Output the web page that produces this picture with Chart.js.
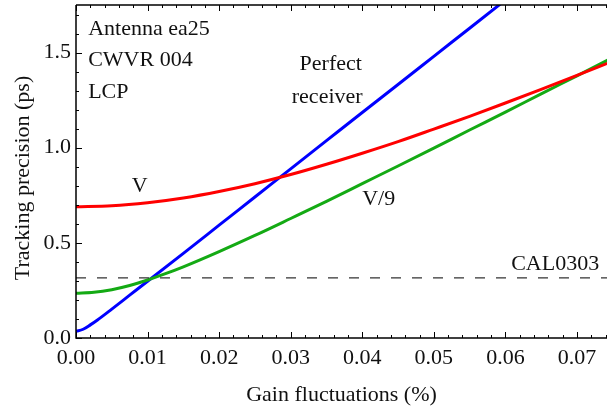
<!DOCTYPE html>
<html>
<head>
<meta charset="utf-8">
<script src="https://cdn.jsdelivr.net/npm/chart.js@4/dist/chart.umd.min.js"></script>
<style>
  body { margin: 0; background: #fff; }
</style>
</head>
<body>
<canvas id="chart" width="607" height="409"></canvas>
<script>
// values
const xV = [0, 0.005, 0.01, 0.015, 0.02, 0.025, 0.03, 0.035, 0.04, 0.045, 0.05, 0.055, 0.06, 0.065, 0.07, 0.0745];
const yV = [0.690, 0.695, 0.711, 0.736, 0.770, 0.811, 0.859, 0.913, 0.971, 1.032, 1.098, 1.165, 1.235, 1.307, 1.380, 1.447];

const xV9 = [0, 0.0025, 0.005, 0.0075, 0.01, 0.0125, 0.015, 0.02, 0.025, 0.03, 0.035, 0.04, 0.045, 0.05, 0.055, 0.06, 0.065, 0.07, 0.0745];
const yV9 = [0.235, 0.240, 0.254, 0.276, 0.305, 0.338, 0.374, 0.454, 0.539, 0.628, 0.718, 0.811, 0.904, 0.998, 1.093, 1.187, 1.283, 1.378, 1.464];

const xPerfect = [0, 0.001, 0.002, 0.003, 0.005, 0.0075, 0.01, 0.015, 0.02, 0.025, 0.03, 0.035, 0.04, 0.045, 0.05, 0.055, 0.06];
const yPerfect = [0.035, 0.046, 0.069, 0.095, 0.152, 0.225, 0.298, 0.445, 0.593, 0.741, 0.889, 1.037, 1.185, 1.332, 1.480, 1.628, 1.776];

const calLevel = 0.316;
const xMax = 0.0742;
const yMax = 1.75;

// text labels in data coordinates
const labels = [
  { text: 'Antenna ea25', x: 0.0017, y: 1.623, align: 'left' },
  { text: 'CWVR 004', x: 0.0017, y: 1.459, align: 'left' },
  { text: 'LCP', x: 0.0017, y: 1.291, align: 'left' },
  { text: 'Perfect', x: 0.0356, y: 1.438, align: 'center' },
  { text: 'receiver', x: 0.0351, y: 1.264, align: 'center' },
  { text: 'V', x: 0.0089, y: 0.80, align: 'center' },
  { text: 'V/9', x: 0.0423, y: 0.728, align: 'center' },
  { text: 'CAL0303', x: 0.0731, y: 0.39, align: 'right' }
];
const yTitle = 'Tracking precision (ps)';

const serif = 'Liberation Serif';
const fontPx = 22;

function pts(xs, ys) {
  return xs.map((x, i) => ({ x: x, y: ys[i] }));
}

// frame with inward ticks, the text labels and the y title
const framePlugin = {
  id: 'frame',
  afterDatasetsDraw(chart) {
    const { ctx, chartArea: a, scales: { x, y } } = chart;
    ctx.save();
    ctx.strokeStyle = '#000';
    ctx.lineWidth = 1.5;
    ctx.beginPath();
    const L = Math.round(a.left), B = Math.round(a.bottom), T = Math.round(a.top);
    ctx.moveTo(L, T); ctx.lineTo(a.right, T);
    ctx.moveTo(L, T); ctx.lineTo(L, B); ctx.lineTo(a.right, B);
    ctx.stroke();

    ctx.lineWidth = 1;
    ctx.beginPath();
    for (let i = 0; i * 0.002 <= xMax + 1e-9; i++) {
      const px = Math.round(x.getPixelForValue(i * 0.002)) + 0.5;
      const len = i % 5 === 0 ? 6 : 3;
      ctx.moveTo(px, B); ctx.lineTo(px, B - len);
      ctx.moveTo(px, T); ctx.lineTo(px, T + len);
    }
    for (let i = 0; i * 0.1 <= yMax + 1e-9; i++) {
      const py = Math.round(y.getPixelForValue(i * 0.1)) + 0.5;
      const len = i % 5 === 0 ? 6 : 3;
      ctx.moveTo(L, py); ctx.lineTo(L + len, py);
    }
    ctx.stroke();

    ctx.fillStyle = '#111';
    ctx.font = fontPx + 'px "' + serif + '"';
    ctx.textBaseline = 'middle';
    labels.forEach(l => {
      ctx.textAlign = l.align;
      ctx.fillText(l.text, x.getPixelForValue(l.x), y.getPixelForValue(l.y));
    });

    // y axis title, a little below the middle of the axis as in the original
    ctx.translate(23, 178);
    ctx.rotate(-Math.PI / 2);
    ctx.textAlign = 'center';
    ctx.fillText(yTitle, 0, 0);
    ctx.restore();
  }
};

const line = (data, color) => ({
  data: data,
  borderColor: color,
  borderWidth: 3,
  pointRadius: 0,
  cubicInterpolationMode: 'monotone',
  fill: false
});

new Chart(document.getElementById('chart'), {
  type: 'line',
  data: {
    datasets: [
      Object.assign(line(pts([0, xMax], [calLevel, calLevel]), '#333'), { borderWidth: 1.3, borderDash: [10, 11] }),
      line(pts(xV, yV), 'rgb(255,0,0)'),
      line(pts(xV9, yV9), 'rgb(20,170,20)'),
      line(pts(xPerfect, yPerfect), 'rgb(0,0,255)')
    ]
  },
  options: {
    responsive: false,
    animation: false,
    layout: { padding: { top: 5, right: 0, left: 0, bottom: 0 } },
    plugins: { legend: { display: false }, tooltip: { enabled: false } },
    scales: {
      x: {
        type: 'linear',
        min: 0,
        max: xMax,
        grid: { display: false, drawTicks: false },
        border: { display: false },
        ticks: {
          stepSize: 0.01,
          includeBounds: false,
          padding: 7,
          color: '#111',
          font: { family: serif, size: fontPx },
          callback: v => v.toFixed(2)
        },
        title: {
          display: true,
          text: 'Gain fluctuations (%)',
          color: '#111',
          font: { family: serif, size: fontPx },
          padding: { top: 0, bottom: 1 }
        },
        afterFit: s => { s.height = 71; s.paddingLeft = 0; s.paddingRight = 0; }
      },
      y: {
        min: 0,
        max: yMax,
        grid: { display: false, drawTicks: false },
        border: { display: false },
        ticks: {
          stepSize: 0.5,
          includeBounds: false,
          padding: 5,
          color: '#111',
          font: { family: serif, size: fontPx },
          callback: v => v.toFixed(1)
        },
        afterFit: s => { s.width = 76; s.paddingTop = 0; s.paddingBottom = 0; }
      }
    }
  },
  plugins: [framePlugin]
});
</script>
</body>
</html>
